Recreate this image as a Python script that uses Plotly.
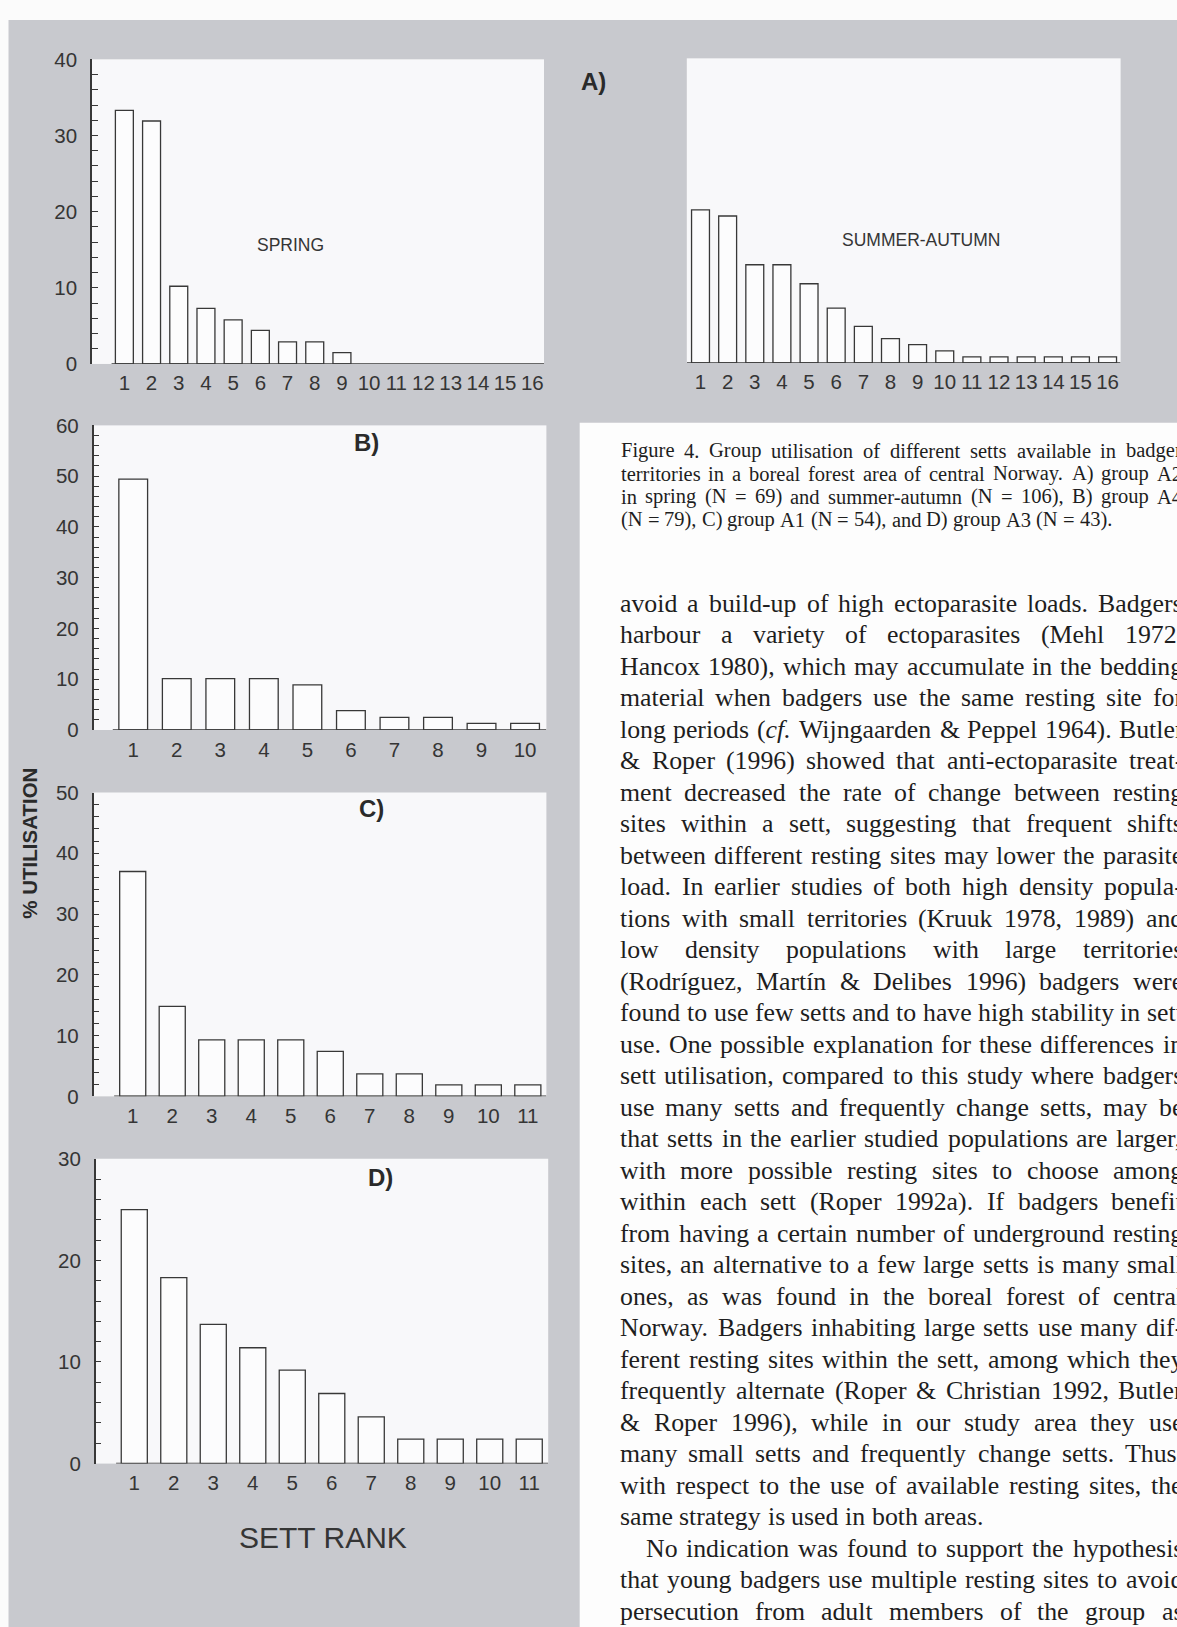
import re
import plotly.graph_objects as go

# ---------------- data ----------------
rank_a = list(range(1, 17))
spring_pct = [33.3, 31.9, 10.2, 7.3, 5.8, 4.4, 2.9, 2.9, 1.5]
summer_pct = [20.1, 19.3, 12.9, 12.9, 10.4, 7.2, 4.8, 3.2, 2.4, 1.6,
              0.8, 0.8, 0.8, 0.8, 0.8, 0.8]
rank_b = list(range(1, 11))
b_pct = [49.4, 10.1, 10.1, 10.1, 8.9, 3.8, 2.5, 2.5, 1.3, 1.3]
rank_c = list(range(1, 12))
c_pct = [37.0, 14.8, 9.3, 9.3, 9.3, 7.4, 3.7, 3.7, 1.9, 1.9, 1.9]
rank_d = list(range(1, 12))
d_pct = [25.0, 18.3, 13.7, 11.4, 9.2, 6.9, 4.6, 2.4, 2.4, 2.4, 2.4]

caption_lines = [
    "Figure 4. Group utilisation of different setts available in badger",
    "territories in a boreal forest area of central Norway. A) group A2",
    "in spring (N = 69) and summer-autumn (N = 106), B) group A4",
    "(N = 79), C) group A1 (N = 54), and D) group A3 (N = 43).",
]
body_lines = [
    "avoid a build-up of high ectoparasite loads. Badgers",
    "harbour a variety of ectoparasites (Mehl 1972,",
    "Hancox 1980), which may accumulate in the bedding",
    "material when badgers use the same resting site for",
    "long periods (<i>cf.</i> Wijngaarden & Peppel 1964). Butler",
    "& Roper (1996) showed that anti-ectoparasite treat-",
    "ment decreased the rate of change between resting",
    "sites within a sett, suggesting that frequent shifts",
    "between different resting sites may lower the parasite",
    "load. In earlier studies of both high density popula-",
    "tions with small territories (Kruuk 1978, 1989) and",
    "low density populations with large territories",
    "(Rodríguez, Martín & Delibes 1996) badgers were",
    "found to use few setts and to have high stability in sett",
    "use. One possible explanation for these differences in",
    "sett utilisation, compared to this study where badgers",
    "use many setts and frequently change setts, may be",
    "that setts in the earlier studied populations are larger,",
    "with more possible resting sites to choose among",
    "within each sett (Roper 1992a). If badgers benefit",
    "from having a certain number of underground resting",
    "sites, an alternative to a few large setts is many small",
    "ones, as was found in the boreal forest of central",
    "Norway. Badgers inhabiting large setts use many dif-",
    "ferent resting sites within the sett, among which they",
    "frequently alternate (Roper & Christian 1992, Butler",
    "& Roper 1996), while in our study area they use",
    "many small setts and frequently change setts. Thus,",
    "with respect to the use of available resting sites, the",
    "same strategy is used in both areas.",
    "No indication was found to support the hypothesis",
    "that young badgers use multiple resting sites to avoid",
    "persecution from adult members of the group as",
]
body_last_of_paragraph = {29}
body_indent = {30}

# ---------------- page geometry ----------------
W, H = 1177, 1627
GRAY = '#c8c9ce'
PLOT_BG = '#f8f8fa'
INK = '#353535'
LINE = '#383838'


def fx(x):
    return x / W


def fy(y):
    return 1 - y / H


panels = [
    ('', rank_a, spring_pct, (92, 544), (48, 357), (-0.19, 16.43), 40, True, 0.53),
    ('2', rank_a, summer_pct, (686.8, 1120.6), (47, 356), (0.495, 16.48), 40, False, 0.50),
    ('3', rank_b, b_pct, (93.6, 546.4), (419.3, 728.3), (0.09, 10.49), 60, True, 0.53),
    ('4', rank_c, c_pct, (93.6, 546.4), (791.7, 1099.9), (0.01, 11.47), 50, True, 0.53),
    ('5', rank_d, d_pct, (95.7, 548.2), (1163.2, 1472.4), (0.023, 11.48), 30, True, 0.54),
]

fig = go.Figure()
axes = {}
shapes = [
    # white text column on the right
    dict(type='rect', xref='paper', yref='paper', x0=fx(579.7), x1=1.02,
         y0=-0.05, y1=fy(416.7), fillcolor='#fdfdfd', line_width=0, layer='below'),
    # thin white page margins of the scan (top and left)
    dict(type='rect', xref='paper', yref='paper', x0=-0.01, x1=1.01,
         y0=fy(8), y1=1.01, fillcolor='#fbfbfb', line_width=0, layer='below'),
    dict(type='rect', xref='paper', yref='paper', x0=-0.01, x1=fx(8.5),
         y0=-0.01, y1=1.01, fillcolor='#fbfbfb', line_width=0, layer='below'),
]

for key, ranks, vals, (x0, x1), (yt, yb), xr, ymax, showy, xl0 in panels:
    fig.add_trace(go.Bar(
        x=ranks[:len(vals)], y=vals, width=0.66,
        xaxis='x' + key, yaxis='y' + key,
        marker=dict(color='#fcfcfd', line=dict(color=LINE, width=1.3)),
        hoverinfo='skip', showlegend=False))
    axes['xaxis' + key] = dict(
        domain=[fx(x0), fx(x1)], range=list(xr), anchor='y' + key,
        tickmode='array', tickvals=ranks, ticktext=[str(r) for r in ranks],
        showline=False, ticks='', showgrid=False, zeroline=False,
        tickfont=dict(size=20.5, color=INK), ticklabelstandoff=5, fixedrange=True)
    axes['yaxis' + key] = dict(
        domain=[fy(yb), fy(yt)], range=[0, ymax], anchor='x' + key,
        visible=showy, showline=True, linecolor=LINE, linewidth=1.5,
        ticks='inside', ticklen=6, tickwidth=1.2, tickcolor=LINE,
        tickmode='linear', tick0=0, dtick=10,
        minor=dict(tickmode='linear', tick0=0, dtick=2, ticks='inside',
                   ticklen=6, tickwidth=1.2, tickcolor=LINE, showgrid=False),
        showgrid=False, zeroline=False,
        tickfont=dict(size=20.5, color=INK), ticklabelstandoff=9, fixedrange=True)
    shapes.append(dict(type='line', xref='x' + key, yref='y' + key,
                       x0=xl0, x1=xr[1], y0=0, y1=0,
                       line=dict(color=LINE, width=1.5)))

ann = []


def label(x, y, text, size, bold=False, angle=0, family='Liberation Sans', color=INK):
    t = '<b>%s</b>' % text if bold else text
    ann.append(dict(x=fx(x), y=fy(y), xref='paper', yref='paper', text=t,
                    showarrow=False, xanchor='center', yanchor='middle',
                    textangle=angle, font=dict(family=family, size=size, color=color)))


label(290, 236, 'SPRING', 17.5)
label(921, 231, 'SUMMER-AUTUMN', 17.5)
label(594, 71, 'A)', 24, bold=True, color='#2a2a2a')
label(366, 437, 'B)', 24, bold=True, color='#2a2a2a')
label(372, 808, 'C)', 24, bold=True, color='#2a2a2a')
label(380, 1182, 'D)', 24, bold=True, color='#2a2a2a')
label(28.6, 843, '% UTILISATION', 20.5, bold=True, angle=-90, color='#2a2a2a')
label(323, 1547, 'SETT RANK', 30)

# ---------- justified serif text ----------
TW = {' ': 250, '(': 333, ')': 333, ',': 250, '-': 333, '.': 250, '&': 778,
      '=': 564, '%': 833, 'í': 278}
for d in '0123456789':
    TW[d] = 500
TW.update(dict(zip('ABCDEFGHIJKLMNOPQRSTUVWXYZ',
                   [722, 667, 667, 722, 611, 556, 722, 722, 333, 389, 722, 611, 889,
                    722, 722, 556, 722, 667, 556, 611, 722, 722, 944, 722, 722, 611])))
TW.update(dict(zip('abcdefghijklmnopqrstuvwxyz',
                   [444, 500, 444, 500, 444, 333, 500, 500, 278, 278, 500, 278, 778,
                    500, 500, 500, 500, 333, 389, 278, 500, 500, 722, 500, 500, 444])))


def word_width(w, size):
    plain = re.sub(r'<[^>]+>', '', w)
    return sum(TW.get(c, 500) for c in plain) * size / 1000


def place(line, y, left, right, size, justify):
    words = line.split(' ')
    ws = [word_width(w, size) for w in words]
    if justify and len(words) > 1:
        gap = (right - left - sum(ws)) / (len(words) - 1)
    else:
        gap = 0.25 * size
    x = left
    for w, wd in zip(words, ws):
        ann.append(dict(x=fx(x), y=fy(y), xref='paper', yref='paper', text=w,
                        showarrow=False, xanchor='left', yanchor='middle', borderpad=0,
                        font=dict(family='Liberation Serif', size=size, color='#1e1e1e')))
        x += wd + gap


for i, line in enumerate(caption_lines):
    place(line, 445 + 23.33 * i, 619.8, 1181, 20.5, i < len(caption_lines) - 1)

for i, line in enumerate(body_lines):
    left = 644.6 if i in body_indent else 619
    place(line, 599.7 + 31.95 * i, left, 1182, 25.8, i not in body_last_of_paragraph)

fig.update_layout(
    width=W, height=H, margin=dict(l=0, r=0, t=0, b=0),
    paper_bgcolor=GRAY, plot_bgcolor=PLOT_BG,
    font=dict(family='Liberation Sans', color=INK),
    showlegend=False, bargap=0.34,
    shapes=shapes, annotations=ann, **axes)

fig.write_html('out.html', config={'displayModeBar': False},
               post_script="document.body.style.margin='0';"
                           "document.body.style.overflow='hidden';")
